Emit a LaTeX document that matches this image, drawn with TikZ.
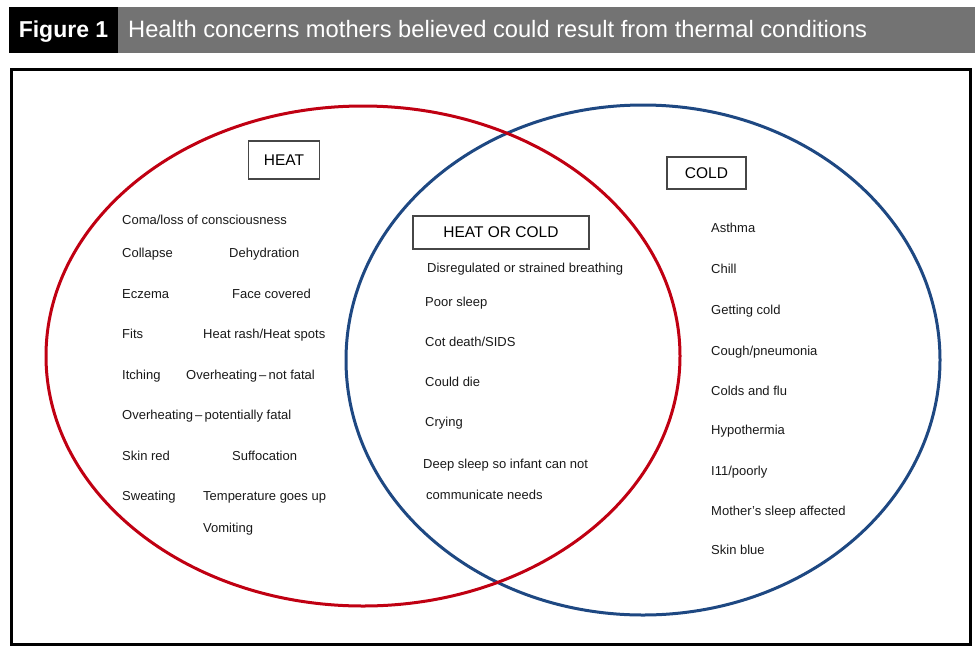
\documentclass[tikz,border=0pt]{standalone}
\usepackage{fontspec}
\setmainfont{Liberation Sans}
\definecolor{heatred}{RGB}{192,0,18}
\definecolor{coldblue}{RGB}{30,72,130}
\definecolor{bargray}{RGB}{115,115,115}
\definecolor{boxgray}{RGB}{70,70,70}
\tikzset{
	item/.style={anchor=base west, inner sep=0pt, yshift=-4.8pt, text=black!90, font=\fontsize{13}{15}\selectfont},
	tagbox/.style={draw=boxgray, line width=1.2pt, inner sep=0pt, font=\fontsize{15.5}{18}\selectfont},
}
\newcommand{\ndash}{\thinspace--\thinspace}
\begin{document}
\begin{tikzpicture}[x=1pt, y=-1pt]
	\useasboundingbox (0,0) rectangle (975,649);
	%title bar
	\fill[bargray] (118,7) rectangle (975,53);
	\fill[black] (9,7) rectangle (118,53);
	\node[text=white, anchor=base, inner sep=0pt, font=\bfseries\fontsize{23}{26}\selectfont] (fig) at (63.5,37.5) {Figure 1};
	\node[text=white, anchor=base west, inner sep=0pt, font=\fontsize{23.7}{26}\selectfont] (title) at (128,37.5) {Health concerns mothers believed could result from thermal conditions};
	%
	%frame
	\draw[line width=3pt] (11,69) rectangle (970,644);
	%
	%sets
	\draw[coldblue, line width=3pt] (643,360) ellipse [x radius=297pt, y radius=255pt];
	\draw[heatred, line width=3pt] (363,356) ellipse [x radius=317pt, y radius=250pt];
	%
	%headings
	\node[tagbox, minimum width=71pt, minimum height=38pt] (heat) at (284,160) {HEAT};
	\node[tagbox, minimum width=79pt, minimum height=32pt] (cold) at (706.5,173) {COLD};
	\node[tagbox, minimum width=176pt, minimum height=33pt] (both) at (501,232.5) {HEAT OR COLD};
	%
	%heat only
	\node[item] (coma) at (122,220) {Coma/loss of consciousness};
	\node[item] (collapse) at (122,253) {Collapse};
	\node[item] (dehyd) at (229,253) {Dehydration};
	\node[item] (eczema) at (122,294) {Eczema};
	\node[item] (face) at (232,294) {Face covered};
	\node[item] (fits) at (122,334) {Fits};
	\node[item] (rash) at (203,334) {Heat rash/Heat spots};
	\node[item] (itch) at (122,375) {Itching};
	\node[item] (overnf) at (186,375) {Overheating\ndash not fatal};
	\node[item] (overpf) at (122,415) {Overheating\ndash potentially fatal};
	\node[item] (skinred) at (122,456) {Skin red};
	\node[item] (suffoc) at (232,456) {Suffocation};
	\node[item] (sweat) at (122,496) {Sweating};
	\node[item] (tempup) at (203,496) {Temperature goes up};
	\node[item] (vomit) at (203,528) {Vomiting};
	%
	%heat or cold
	\node[item] (breath) at (427,268) {Disregulated or strained breathing};
	\node[item] (poorsl) at (425,302) {Poor sleep};
	\node[item] (sids) at (425,342) {Cot death/SIDS};
	\node[item] (die) at (425,382) {Could die};
	\node[item] (cry) at (425,422) {Crying};
	\node[item] (deep) at (423,464) {Deep sleep so infant can not};
	\node[item] (needs) at (426,495) {communicate needs};
	%
	%cold only
	\node[item] (asthma) at (711,228) {Asthma};
	\node[item] (chill) at (711,269) {Chill};
	\node[item] (getcold) at (711,310) {Getting cold};
	\node[item] (cough) at (711,351) {Cough/pneumonia};
	\node[item] (flu) at (711,391) {Colds and flu};
	\node[item] (hypo) at (711,430) {Hypothermia};
	\node[item] (ill) at (711,471) {I11/poorly};
	\node[item] (mother) at (711,511) {Mother’s sleep affected};
	\node[item] (blue) at (711,550) {Skin blue};
\end{tikzpicture}
\end{document}
